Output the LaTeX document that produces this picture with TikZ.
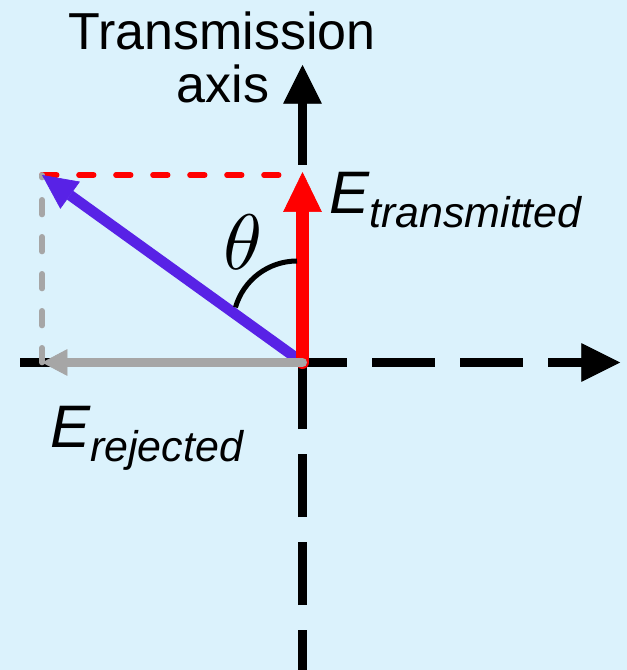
\documentclass[tikz,border=0pt]{standalone}
\usepackage{graphicx}
\usepackage{fontspec}
\setmainfont{Liberation Sans}
\usetikzlibrary{arrows.meta}
\definecolor{bgblue}{RGB}{219,242,252}
\definecolor{vpurple}{RGB}{88,34,230}
\definecolor{vgray}{RGB}{166,166,166}
\definecolor{vred}{RGB}{255,0,0}
\tikzset{
  axisline/.style={line width=6.75pt, dash pattern=on 47.25pt off 18.75pt,
    -{Triangle[length=29pt,width=29pt,line width=0.5pt]}},
  projline/.style={line width=4.2pt, line cap=round, dash pattern=on 11pt off 16.75pt},
  evec/.style={line width=8pt, vpurple, -{Triangle[length=26pt,width=25pt,line width=0.5pt]}},
  tvec/.style={line width=9.75pt, vred, line cap=round, -{Triangle[length=30pt,width=29pt,line width=0.5pt]}},
  rvec/.style={line width=6.75pt, vgray, line cap=round, -{Triangle[length=19pt,width=20pt,line width=0.5pt]}},
  lbl/.style={inner sep=0pt, text=black},
}
\begin{document}
\begin{tikzpicture}[x=0.75pt,y=-0.75pt]
\useasboundingbox (0,0) rectangle (627,670);
\fill[bgblue] (0,0) rectangle (627,670);
% coordinates
\coordinate (O) at (302.5,362.5);
\coordinate (HL) at (20,362.5);
\coordinate (HR) at (620,362.5);
\coordinate (VB) at (302.5,693);
\coordinate (VT) at (302.5,65);
\coordinate (P) at (42,175);
\coordinate (T) at (302.5,172);
\coordinate (R) at (42,362.5);
\coordinate (PR) at (42,362.5);
\coordinate (TD) at (283,175);
\coordinate (A1) at (297,261);
% axes
\clip (0,0) rectangle (627,670);
\draw[axisline] (HL) -- (HR);
\draw[axisline] (VB) -- (VT);
% projection lines
\draw[projline, vred] (P) -- (TD);
\draw[projline, vgray] (PR) -- (P);
% vectors
\draw[evec] (O) -- (P);
\draw[tvec] (O) -- (T);
\draw[rvec] (O) -- (R);
% angle arc
\draw[line width=3.75pt] (A1) arc[start angle=-90, end angle=-164, radius=64];
% labels
\node[lbl, anchor=base, font=\fontsize{39}{39}\selectfont] (t1) at (222,50) {Transmission};
\node[lbl, anchor=base, font=\fontsize{39}{39}\selectfont] (t2) at (223,103) {axis};
\node[lbl, anchor=base west] (et) at (329,214) {\itshape\fontsize{45}{45}\selectfont E\raisebox{-10.5pt}{\fontsize{32.2}{32.2}\selectfont transmitted}};
\node[lbl, anchor=base west] (er) at (50,447) {\itshape\fontsize{45}{45}\selectfont E\raisebox{-11pt}{\fontsize{32.2}{32.2}\selectfont rejected}};
\node[lbl] (th) at (243,242.5) {\scalebox{5.9}{$\theta$}};
\end{tikzpicture}
\end{document}
